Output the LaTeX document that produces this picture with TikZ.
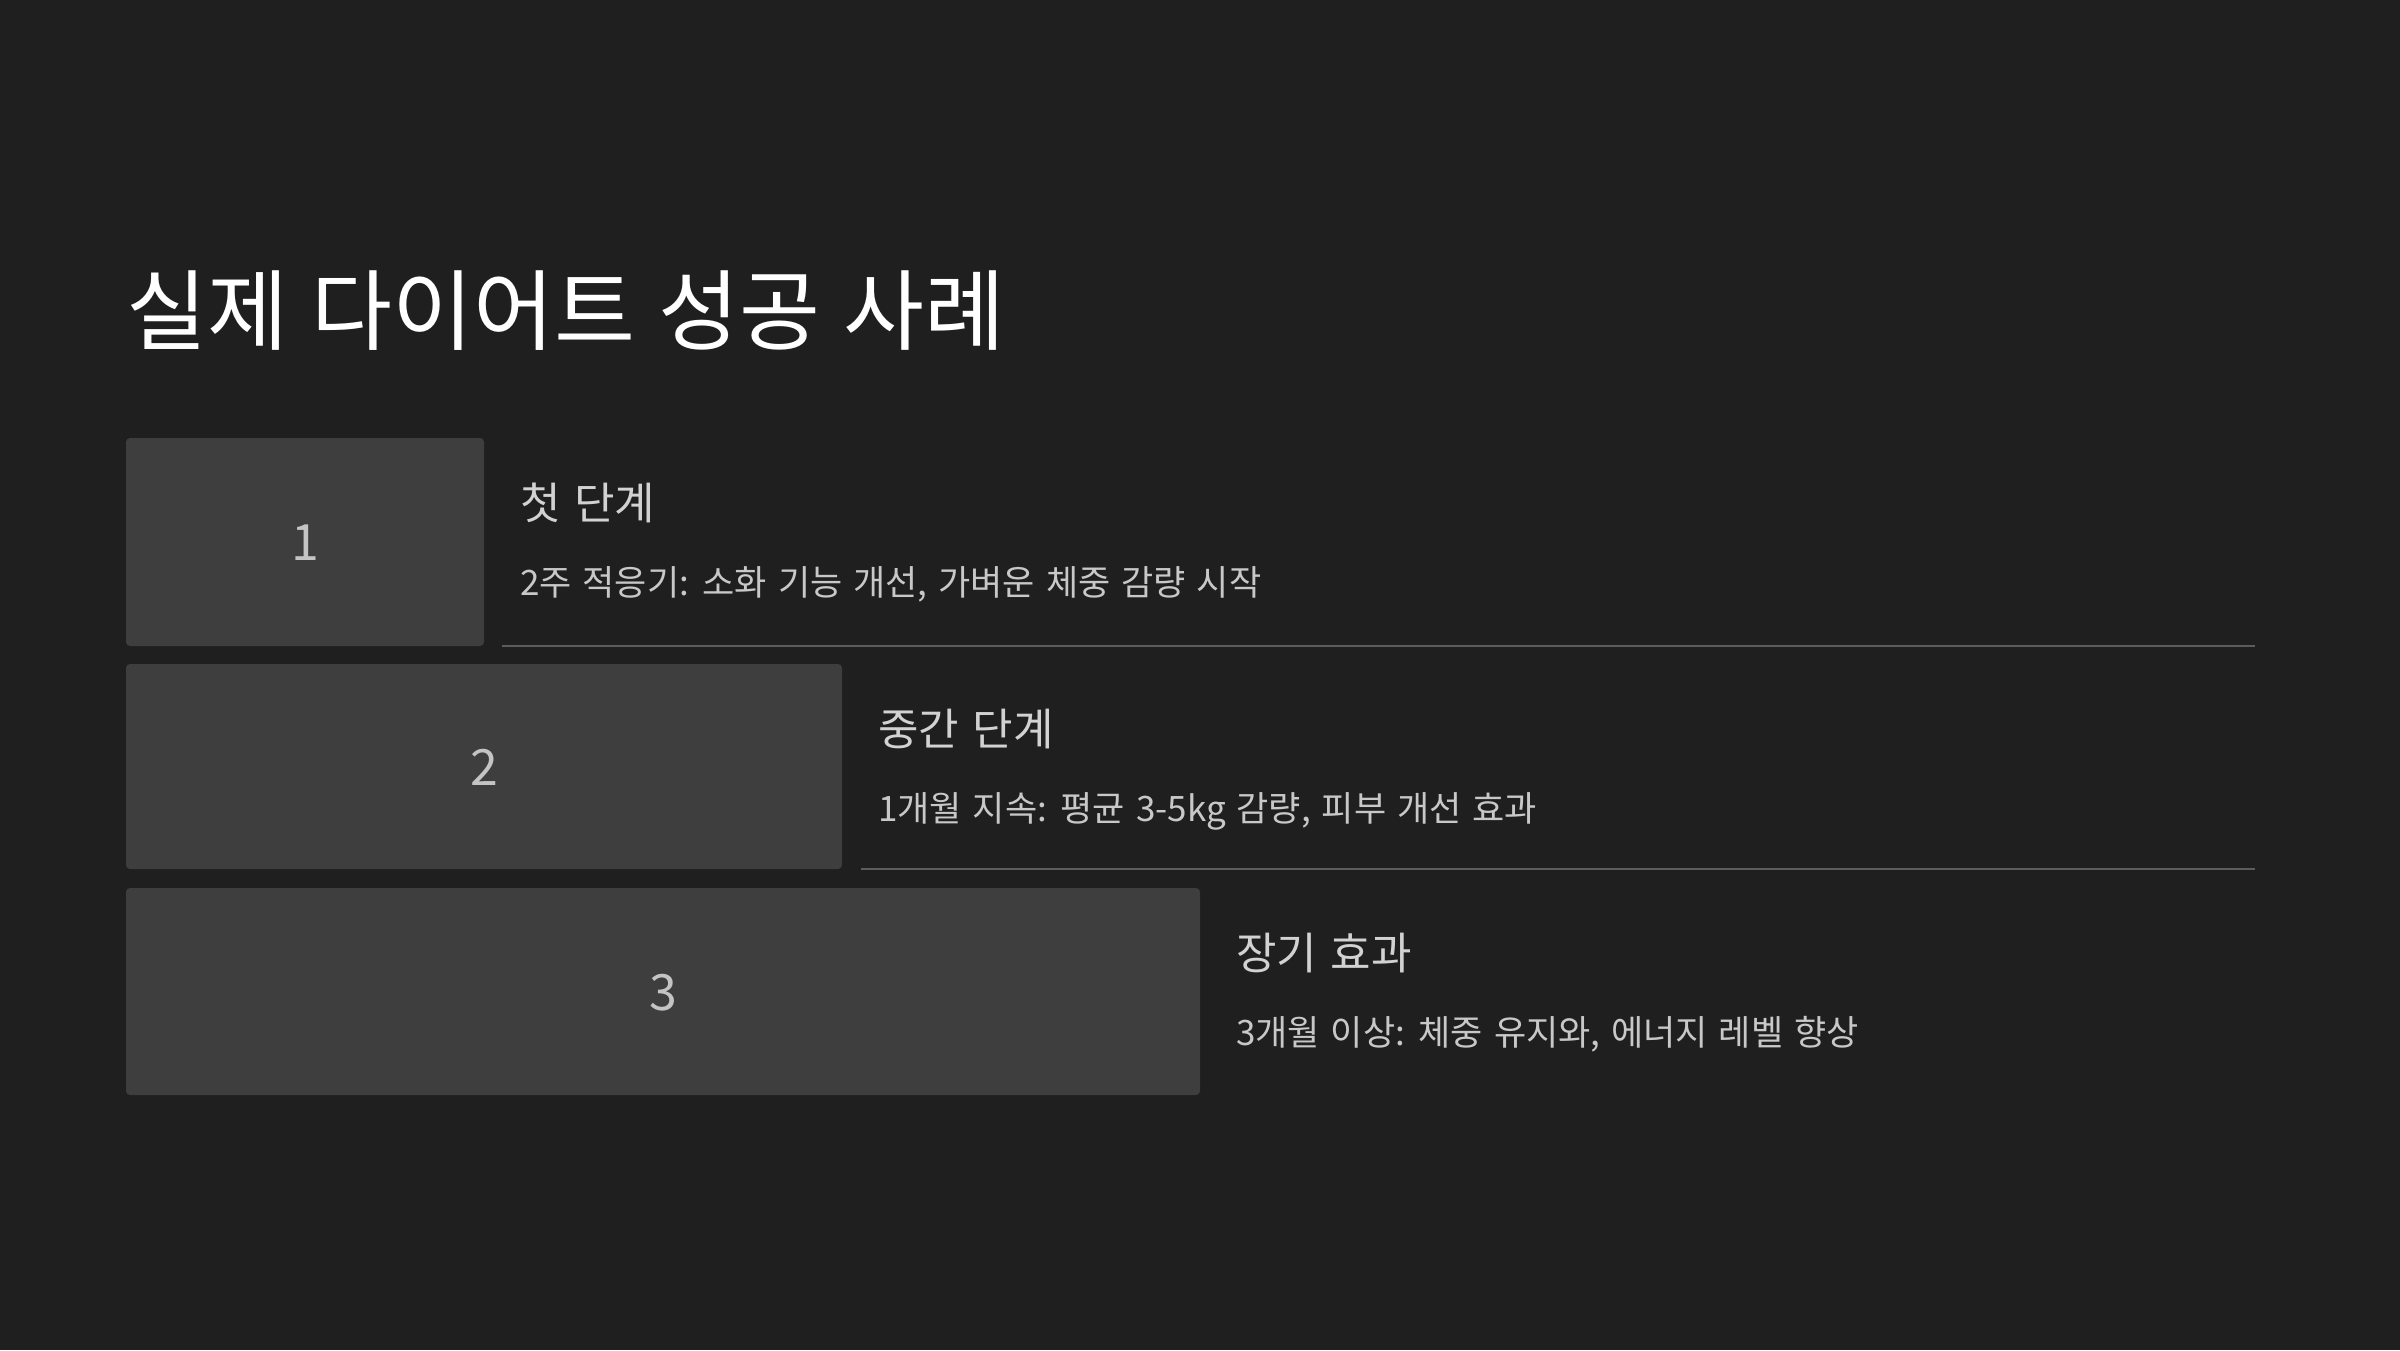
\documentclass[tikz,border=0pt]{standalone}
\usepackage{fontspec}
\setmainfont{Noto Sans CJK KR}[WordSpace=1.4]
\newfontfamily\titlefont{Noto Sans CJK KR}[WordSpace=1.18]
\definecolor{bg}{HTML}{1F1F1F}
\definecolor{boxfill}{HTML}{3E3E3E}
\definecolor{rule}{HTML}{5C5C5C}
\definecolor{numtxt}{HTML}{C4C4C4}
\definecolor{headtxt}{HTML}{D2D2D2}
\definecolor{subtxt}{HTML}{C8C8C8}
\tikzset{
  stepbox/.style={fill=boxfill, rounded corners=4pt, draw=none},
  numlabel/.style={font=\fontsize{50}{60}\selectfont, text=numtxt, inner sep=0pt, anchor=base},
  headlabel/.style={font=\fontsize{44}{52}\selectfont, text=headtxt, inner sep=0pt, anchor=base west},
  sublabel/.style={font=\fontsize{35}{42}\selectfont, text=subtxt, inner sep=0pt, anchor=base west},
  sepline/.style={draw=rule, line width=2pt},
}
\begin{document}
\begin{tikzpicture}[x=1pt,y=-1pt]
\fill[bg] (0,0) rectangle (2400,1350);
\useasboundingbox (0,0) rectangle (2400,1350);

\node[inner sep=0pt, anchor=base west, text=white, font=\titlefont\fontsize{88}{100}\selectfont] (title) at (126,343) {실제 다이어트 성공 사례};

% boxes
\path[stepbox] (126,438) rectangle (484,646);
\path[stepbox] (126,664) rectangle (842,869);
\path[stepbox] (126,888) rectangle (1200,1095);

\node[numlabel] (n1) at (305,560) {1};
\node[numlabel] (n2) at (484,785) {2};
\node[numlabel] (n3) at (663,1010) {3};

\node[headlabel] (h1) at (520,519) {첫 단계};
\node[sublabel] (s1) at (520,595) {2주 적응기: 소화 기능 개선, 가벼운 체중 감량 시작};
\node[headlabel] (h2) at (878,745) {중간 단계};
\node[sublabel] (s2) at (878,821) {1개월 지속: 평균 3-5kg 감량, 피부 개선 효과};
\node[headlabel] (h3) at (1236,969) {장기 효과};
\node[sublabel] (s3) at (1236,1045) {3개월 이상: 체중 유지와, 에너지 레벨 향상};

\coordinate (l1a) at (502,646);
\coordinate (l1b) at (2255,646);
\coordinate (l2a) at (861,869);
\coordinate (l2b) at (2255,869);
\draw[sepline] (l1a) -- (l1b);
\draw[sepline] (l2a) -- (l2b);
\end{tikzpicture}
\end{document}
